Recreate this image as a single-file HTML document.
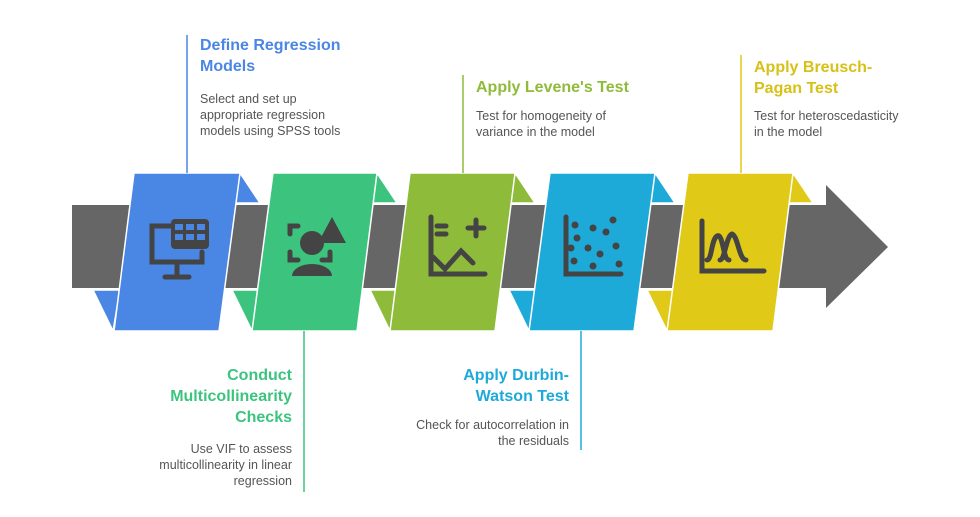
<!DOCTYPE html>
<html><head><meta charset="utf-8"><style>
body{margin:0;background:#fff;width:980px;height:517px;overflow:hidden;font-family:"Liberation Sans",sans-serif;}
.t{position:absolute;font-weight:bold;font-size:16px;line-height:21px;}
.b{position:absolute;font-size:12.5px;line-height:16px;color:#555;}
.r{text-align:right}
</style></head><body>
<svg width="980" height="517" style="position:absolute;left:0;top:0">
<polygon points="72,205 826,205 826,185 888,247 826,308 826,288 72,288" fill="#666"/>
<g stroke="#fff" stroke-width="1.5">
<!-- blue -->
<polygon points="240,173 260,203 234,203" fill="#4a86e4"/>
<polygon points="93,290 120,290 113,331" fill="#4a86e4"/>
<polygon points="134,173 240,173 219,331 114,331" fill="#4a86e4"/>
<!-- green -->
<polygon points="377,173 397,203 371,203" fill="#3cc47f"/>
<polygon points="232,290 259,290 252,331" fill="#3cc47f"/>
<polygon points="273,173 377,173 357,331 252,331" fill="#3cc47f"/>
<!-- lime -->
<polygon points="515,173 535,203 509,203" fill="#8fbb3a"/>
<polygon points="370,290 397,290 390,331" fill="#8fbb3a"/>
<polygon points="410,173 515,173 495,331 390,331" fill="#8fbb3a"/>
<!-- cyan -->
<polygon points="655,173 675,203 649,203" fill="#1eaad8"/>
<polygon points="509,290 536,290 529,331" fill="#1eaad8"/>
<polygon points="550,173 655,173 634,331 529,331" fill="#1eaad8"/>
<!-- yellow -->
<polygon points="793,173 813,203 787,203" fill="#e0c917"/>
<polygon points="647,290 674,290 667,331" fill="#e0c917"/>
<polygon points="688,173 793,173 773,331 667,331" fill="#e0c917"/>
</g>
<!-- lines -->
<line x1="187" y1="35" x2="187" y2="173" stroke="#4a86e4" stroke-width="1.5"/>
<line x1="304" y1="331" x2="304" y2="492" stroke="#3cc47f" stroke-width="1.5"/>
<line x1="463" y1="75" x2="463" y2="173" stroke="#8fbb3a" stroke-width="1.5"/>
<line x1="581" y1="331" x2="581" y2="450" stroke="#1eaad8" stroke-width="1.5"/>
<line x1="741" y1="55" x2="741" y2="173" stroke="#e0c917" stroke-width="1.5"/>
<!-- icons -->
<g fill="none" stroke="#444" stroke-width="5" stroke-linecap="round">
<path d="M172,226 h-20 v36 h50 v-10"/><line x1="177" y1="262" x2="177" y2="275"/><line x1="165" y1="277" x2="189" y2="277"/>
<path d="M290,234 v-8 h8 M290,252 v8 h8 M330,252 v8 h-8"/>
<path d="M431,217 v57 h54"/><path d="M433,257 l12,12 l16,-18 l12,12"/><path d="M437,226 h9 M437,234 h9"/><path d="M468,228 h16 M476,220 v16"/>
<path d="M566,217 v57 h55"/>
<path d="M702,221 v50 h62"/><path d="M707,260 c5,0 4,-20 10,-24 c6,-4 6,24 12,24 M720,260 c5,0 6,-24 12,-26 c6,2 7,26 14,26"/>
</g>
<rect x="171" y="219" width="38" height="30" rx="4" fill="#444"/>
<g fill="#4a86e4"><rect x="175" y="224" width="8" height="6"/><rect x="186" y="224" width="8" height="6"/><rect x="197" y="224" width="8" height="6"/><rect x="175" y="234" width="8" height="6"/><rect x="186" y="234" width="8" height="6"/><rect x="197" y="234" width="8" height="6"/></g>
<circle cx="312" cy="243" r="12" fill="#444"/><path d="M292,276 a20,12 0 0 1 40,0 z" fill="#444"/>
<polygon points="332,217 346,243 318,243" fill="#444"/>
<g fill="#444"><circle cx="575" cy="225" r="3.5"/><circle cx="593" cy="228" r="3.5"/><circle cx="613" cy="220" r="3.5"/><circle cx="577" cy="238" r="3.5"/><circle cx="606" cy="232" r="3.5"/><circle cx="571" cy="248" r="3.5"/><circle cx="588" cy="248" r="3.5"/><circle cx="600" cy="254" r="3.5"/><circle cx="616" cy="246" r="3.5"/><circle cx="574" cy="261" r="3.5"/><circle cx="593" cy="266" r="3.5"/><circle cx="619" cy="264" r="3.5"/></g>
</svg>
<div class="t" style="left:200px;top:35px;color:#4a86e4">Define Regression<br>Models</div>
<div class="b" style="left:200px;top:91px">Select and set up<br>appropriate regression<br>models using SPSS tools</div>
<div class="t" style="left:476px;top:77px;color:#8fbb3a">Apply Levene's Test</div>
<div class="b" style="left:476px;top:108px">Test for homogeneity of<br>variance in the model</div>
<div class="t" style="left:754px;top:57px;color:#d8c116">Apply Breusch-<br>Pagan Test</div>
<div class="b" style="left:754px;top:108px">Test for heteroscedasticity<br>in the model</div>
<div class="t r" style="right:688px;top:365px;color:#3cc47f">Conduct<br>Multicollinearity<br>Checks</div>
<div class="b r" style="right:688px;top:441px">Use VIF to assess<br>multicollinearity in linear<br>regression</div>
<div class="t r" style="right:411px;top:365px;color:#1eaad8">Apply Durbin-<br>Watson Test</div>
<div class="b r" style="right:411px;top:417px">Check for autocorrelation in<br>the residuals</div>
</body></html>
